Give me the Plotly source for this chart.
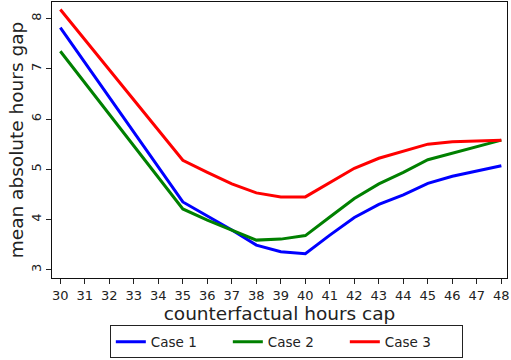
import plotly.graph_objects as go

# Counterfactual hours cap (x) and mean absolute hours gap for each case
hours_cap = [30, 35, 36, 37, 38, 39, 40, 41, 42, 43, 44, 45, 46, 47, 48]
case1 = [7.82, 4.35, 4.07, 3.79, 3.49, 3.36, 3.32, 3.69, 4.04, 4.30, 4.49, 4.72, 4.86, 4.97, 5.07]
case2 = [7.35, 4.21, 3.99, 3.79, 3.59, 3.61, 3.68, 4.05, 4.42, 4.71, 4.94, 5.19, 5.32, 5.45, 5.58]
case3 = [8.18, 5.18, 4.94, 4.71, 4.53, 4.45, 4.45, 4.74, 5.02, 5.22, 5.36, 5.50, 5.55, 5.57, 5.58]

x_ticks = list(range(30, 49))
y_ticks = [3, 4, 5, 6, 7, 8]

series = [
    ("Case 1", case1, "#0000ff"),
    ("Case 2", case2, "#008000"),
    ("Case 3", case3, "#ff0000"),
]

fig = go.Figure()
for name, vals, color in series:
    fig.add_trace(go.Scatter(
        x=hours_cap, y=vals, mode="lines", name=name,
        line=dict(color=color, width=3),
    ))

font_family = "DejaVu Sans"
fig.update_layout(
    width=511, height=360,
    margin=dict(l=52, r=4, t=2, b=80),
    paper_bgcolor="white", plot_bgcolor="white",
    font=dict(family=font_family, color="#222222"),
    showlegend=True,
    legend=dict(
        orientation="h", x=0.515, xanchor="center", y=-0.172, yanchor="top",
        bordercolor="#222222", borderwidth=1, bgcolor="white",
        font=dict(size=13.5, family=font_family, color="#222222"),
        entrywidth=72, entrywidthmode="pixels", tracegroupgap=0,
    ),
)
fig.update_xaxes(
    range=[29.66, 48.23], tickvals=x_ticks, ticktext=[str(t) for t in x_ticks],
    showgrid=False, zeroline=False,
    showline=True, linecolor="#111111", linewidth=1.2, mirror=True,
    ticks="outside", ticklen=5, tickwidth=1, tickcolor="#222222",
    tickfont=dict(size=13, family=font_family, color="#222222"),
    title=dict(text="counterfactual hours cap", standoff=1,
               font=dict(size=18.5, family=font_family, color="#222222")),
)
fig.update_yaxes(
    range=[2.836, 8.33], tickvals=y_ticks, ticktext=[str(t) for t in y_ticks],
    tickangle=-90,
    showgrid=False, zeroline=False,
    showline=True, linecolor="#111111", linewidth=1.2, mirror=True,
    ticks="outside", ticklen=5, tickwidth=1, tickcolor="#222222",
    tickfont=dict(size=13, family=font_family, color="#222222"),
    title=dict(text="mean absolute hours gap", standoff=0,
               font=dict(size=18.5, family=font_family, color="#222222")),
)

fig.write_html("out.html")
